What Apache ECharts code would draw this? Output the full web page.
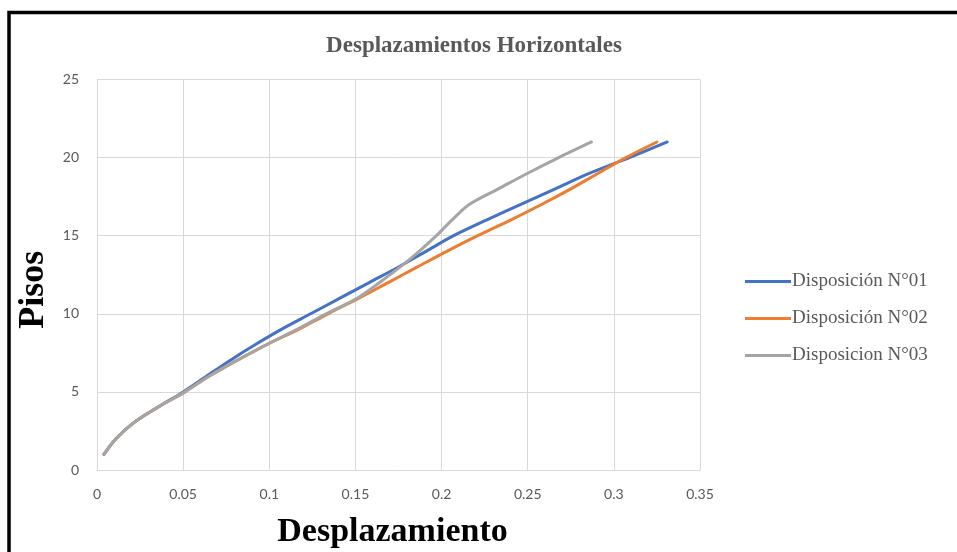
<!DOCTYPE html>
<html>
<head>
<meta charset="utf-8">
<script src="https://cdn.jsdelivr.net/npm/echarts@6/dist/echarts.min.js"></script>
<style>html,body{margin:0;padding:0;background:#fff;}#c{width:957px;height:552px;}</style>
</head>
<body>
<div id="c"></div>
<script>
const floors = [1,2,3,4,5,6,7,8,9,10,11,12,13,14,15,16,17,18,19,20,21];
const disp01 = [0.004,0.011,0.021,0.035,0.050,0.0635,0.077,0.0915,0.107,0.124,0.141,0.158,0.175,0.191,0.207,0.226,0.246,0.266,0.286,0.309,0.331];
const disp02 = [0.004,0.011,0.021,0.035,0.051,0.065,0.081,0.098,0.117,0.134,0.152,0.169,0.186,0.203,0.221,0.240,0.258,0.275,0.291,0.307,0.325];
const disp03 = [0.004,0.011,0.021,0.035,0.051,0.065,0.081,0.098,0.116,0.133,0.151,0.164,0.176,0.187,0.197,0.206,0.216,0.233,0.250,0.268,0.287];
const seriesNames = ['Disposición N°01','Disposición N°02','Disposicion N°03'];
const seriesColors = ['#4472C4','#ED7D31','#A5A5A5'];
const xTicks = {min:0, max:0.35, interval:0.05};
const yTicks = {min:0, max:25, interval:5};

const pair = (xs) => xs.map((x,i) => [x, floors[i]]);
const allData = [disp01, disp02, disp03];

const chart = echarts.init(document.getElementById('c'), null, {renderer:'canvas'});
chart.setOption({
  animation:false,
  backgroundColor:'#fff',
  title:{
    text:'Desplazamientos Horizontales',
    left:469, top:30, textAlign:'center',
    textStyle:{fontFamily:'Liberation Serif', fontWeight:'bold', fontSize:23, color:'#595959'}
  },
  grid:{left:97, right:257, top:79.5, bottom:82, containLabel:false, outerBoundsMode:'none'},
  xAxis:{
    type:'value', min:xTicks.min, max:xTicks.max, interval:xTicks.interval,
    name:'Desplazamiento', nameLocation:'middle', nameGap:45,
    nameTextStyle:{fontFamily:'Liberation Serif', fontWeight:'bold', fontSize:34, color:'#000', padding:[0,12,0,0]},
    axisLine:{show:true, lineStyle:{color:'#d9d9d9', width:1}},
    axisTick:{show:false},
    axisLabel:{color:'#595959', fontFamily:'Lato', fontSize:14, margin:17,
      formatter:(v)=> String(parseFloat(v.toFixed(2)))},
    splitLine:{show:true, lineStyle:{color:'#d9d9d9', width:1}}
  },
  yAxis:{
    type:'value', min:yTicks.min, max:yTicks.max, interval:yTicks.interval,
    name:'Pisos', nameLocation:'middle', nameGap:42, nameRotate:90,
    nameTextStyle:{fontFamily:'Liberation Serif', fontWeight:'bold', fontSize:36, color:'#000', padding:[0,30,0,0]},
    axisLine:{show:false},
    axisTick:{show:false},
    axisLabel:{color:'#595959', fontFamily:'Lato', fontSize:14, margin:18},
    splitLine:{show:true, lineStyle:{color:'#d9d9d9', width:1}}
  },
  legend:{
    orient:'vertical', left:740, top:267,
    itemWidth:46, itemHeight:3, itemGap:18, icon:'rect',
    textStyle:{fontFamily:'Liberation Serif', fontSize:19, color:'#595959', padding:[0,0,0,-4]},
    data:seriesNames
  },
  graphic:[{
    type:'rect', shape:{x:9, y:12.5, width:1200, height:800},
    style:{fill:'none', stroke:'#000', lineWidth:3.5}, silent:true, z:100
  }],
  series: allData.map((d,i)=>({
    name:seriesNames[i], type:'line', data:pair(d), smooth:0.3,
    showSymbol:false, symbol:'none',
    lineStyle:{color:seriesColors[i], width:3, cap:'round'},
    itemStyle:{color:seriesColors[i]}, z:2+i
  }))
});
</script>
</body>
</html>
